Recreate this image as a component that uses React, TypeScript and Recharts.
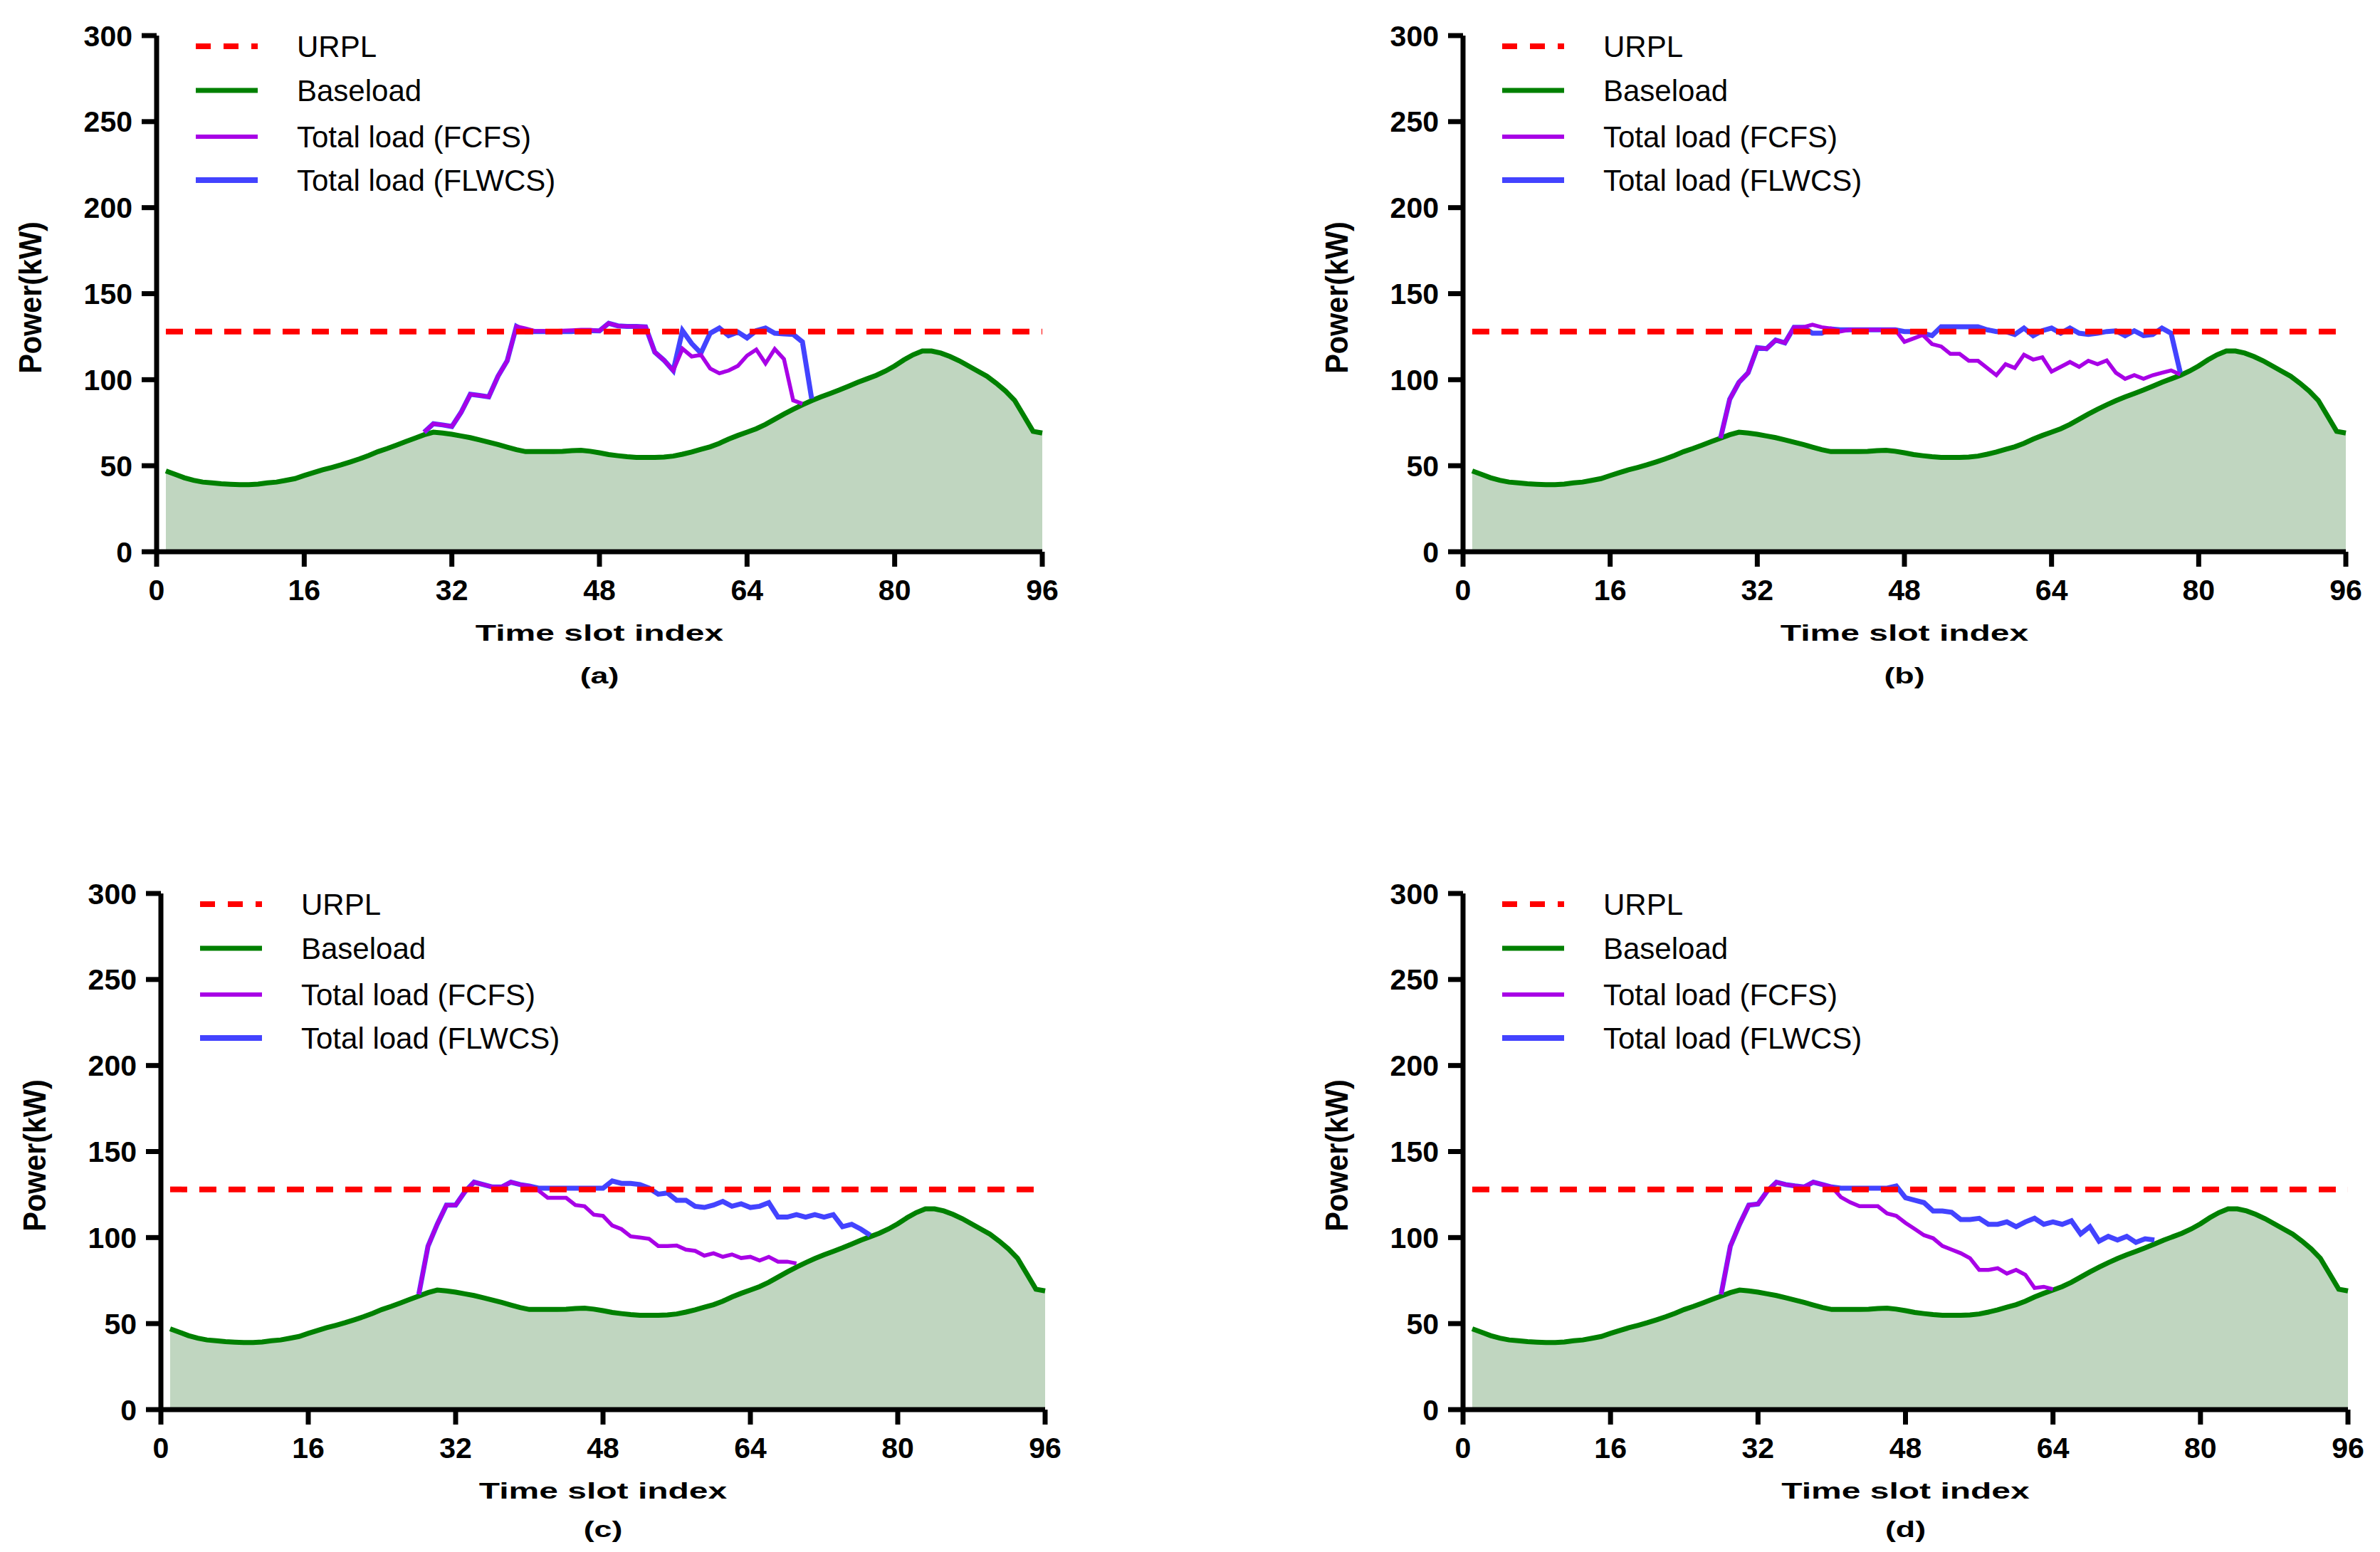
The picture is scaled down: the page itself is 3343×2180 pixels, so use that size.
import React from "react";
import { ComposedChart, Area, Line, XAxis, YAxis, ReferenceLine } from "recharts";

// time slots 0..96, power in kW
const slotTicks = [0, 16, 32, 48, 64, 80, 96];
const powerTicks = [0, 50, 100, 150, 200, 250, 300];
const urplLevel = 128;

const seriesNames = ["URPL", "Baseload", "Total load (FCFS)", "Total load (FLWCS)"];
const panelLabels = ["(a)", "(b)", "(c)", "(d)"];

// baseload, slots 1..96 (same in every panel)
const baseloadStart = 1;
const baseload = [
  47, 45, 43, 41.5, 40.5, 40, 39.5, 39.2, 39, 39,
  39.3, 40, 40.5, 41.5, 42.5, 44.3, 46, 47.6, 49, 50.5,
  52.2, 54, 56, 58.2, 60, 62, 64, 66, 68, 69.5,
  69, 68.3, 67.3, 66.3, 65, 63.7, 62.3, 60.8, 59.3, 58.2,
  58.2, 58.2, 58.2, 58.3, 58.8, 59, 58.4, 57.5, 56.5, 55.8,
  55.2, 54.8, 54.8, 54.8, 55, 55.6, 56.7, 58, 59.5, 61,
  63, 65.5, 67.6, 69.5, 71.5, 74, 77, 80, 82.8, 85.4,
  87.8, 90, 92, 94, 96.2, 98.5, 100.5, 102.5, 105, 108,
  111.5, 114.5, 116.7, 116.7, 115.5, 113.5, 111, 108, 105, 102,
  98, 93.5, 88, 79, 70, 69,
];

// (a)
const fcfsAStart = 29;
const fcfsA = [
  69.5, 74.4, 73.7, 72.8, 81, 91.5, 90.8, 90, 102, 111,
  131, 129.8, 128.3, 128.3, 128.3, 128.5, 128.7, 129, 129, 128.4,
  132.8, 131.3, 131, 131, 130.7, 116, 111.3, 105.3, 118, 113.5,
  114.4, 106.5, 103.7, 105.3, 108, 114, 117.5, 109.5, 117.8, 112,
  88, 86,
];
const flwcsAStart = 29;
const flwcsA = [
  69.5, 74.4, 73.7, 72.8, 81, 91.5, 90.8, 90, 102, 111,
  131, 128, 128, 128, 128, 128, 128, 128.5, 128.5, 128.4,
  132.8, 131.3, 131, 131, 130.7, 116, 111.3, 105.3, 128.5, 121,
  115.5, 127, 130, 125.6, 127.7, 124.3, 128.5, 130, 127, 126.6,
  126.3, 122, 89,
];

// (b)
const fcfsBStart = 28;
const fcfsB = [
  66, 88.6, 98.4, 104, 118.6, 118, 123, 121.4, 130.5, 130.5,
  132, 130.5, 129.8, 128, 129, 129, 129, 129, 129, 129,
  122, 124, 126, 120.7, 119.3, 115, 115, 111, 111, 106.8,
  102.6, 109, 106.8, 114.5, 111.7, 113, 104.7, 107.5, 110.3, 107.5,
  111, 109, 111.2, 104, 100.5, 102.6, 100.5, 102.6, 104, 105.4,
  103,
];
const flwcsBStart = 28;
const flwcsB = [
  66, 88.6, 98.4, 104, 118.6, 118, 123, 121.4, 130.5, 130.5,
  127, 127, 129.5, 129, 129, 129, 129, 129, 129, 129,
  128, 128, 127, 125.6, 130.8, 130.8, 130.8, 130.8, 130.8, 129,
  128, 128, 126.3, 130, 125.6, 128.5, 130, 127, 130, 127,
  126.3, 127, 128, 128.4, 125.6, 128.4, 125.6, 126.3, 130, 127,
  104,
];

// (c)
const fcfsCStart = 28;
const fcfsC = [
  67, 95, 107.7, 118.9, 118.9, 126.6, 132.2, 130.8, 129.4, 129.4,
  132.2, 130.8, 130, 127.3, 123.1, 123.1, 123.1, 118.9, 118.2, 113.3,
  112.6, 107, 104.9, 100.7, 100, 99.3, 95.1, 95.1, 95.4, 93,
  92.3, 89.5, 90.9, 88.8, 90.2, 88.1, 88.8, 86.7, 88.8, 86,
  86, 85,
];
const flwcsCStart = 28;
const flwcsC = [
  67, 95, 107.7, 118.9, 118.9, 126.6, 132.2, 130.8, 129.4, 129.4,
  132.2, 130.8, 130, 128.7, 128.7, 128.7, 128.7, 128.7, 128.7, 128.7,
  128.7, 132.9, 131.5, 131.5, 130.8, 128.7, 125.2, 125.9, 121.7, 121.7,
  118.2, 117.5, 118.9, 121, 118.2, 119.6, 117.5, 118.2, 120.3, 111.9,
  111.9, 113.3, 111.9, 113.3, 111.9, 113.3, 106.3, 107.7, 104.9, 101.4,
];

// (d)
const fcfsDStart = 28;
const fcfsD = [
  67, 95, 107.7, 118.9, 119.5, 127, 132.2, 130.8, 130, 129.4,
  132.2, 130.8, 129.4, 123.5, 120.5, 118.2, 118.2, 118.2, 114, 112.6,
  108.5, 105, 101.4, 99.6, 95.1, 93, 90.9, 88, 81.2, 81.2,
  82.2, 79.1, 81.2, 78.4, 70.7, 71.4, 70,
];
const flwcsDStart = 28;
const flwcsD = [
  67, 95, 107.7, 118.9, 119.5, 127, 132.2, 130.8, 130, 129.4,
  132.2, 130.8, 129.4, 128.7, 128.7, 128.7, 128.7, 128.7, 128.7, 130,
  123.1, 121.7, 120.3, 115.4, 115.4, 114.7, 110.5, 110.5, 111.2, 107.7,
  107.7, 109.1, 106.3, 109.1, 111.2, 107.7, 109.1, 107.7, 109.8, 102.1,
  106.3, 97.9, 100.7, 98.6, 100.7, 97.2, 99.3, 98.6,
];

const RED = "#ff0000";
const GREEN = "#008000";
const FILL = "#c0d6c0";
const PURPLE = "#a800e6";
const BLUE = "#4343ff";
const FONT = "'Liberation Sans', Arial, Helvetica, sans-serif";

function pick(arr: number[], start: number, s: number) {
  const i = s - start;
  return i >= 0 && i < arr.length ? arr[i] : null;
}

function buildRows(fcfs: number[], fcfsStart: number, flwcs: number[], flwcsStart: number) {
  const rows = [];
  for (let s = 0; s <= 96; s++) {
    rows.push({
      slot: s,
      base: pick(baseload, baseloadStart, s),
      fcfs: pick(fcfs, fcfsStart, s),
      flwcs: pick(flwcs, flwcsStart, s),
    });
  }
  return rows;
}

const panels = [
  { x0: 220, x1: 1464, top: 50, bottom: 775, rows: buildRows(fcfsA, fcfsAStart, flwcsA, flwcsAStart) },
  { x0: 2055, x1: 3295, top: 50, bottom: 775, rows: buildRows(fcfsB, fcfsBStart, flwcsB, flwcsBStart) },
  { x0: 226, x1: 1468, top: 1255, bottom: 1980, rows: buildRows(fcfsC, fcfsCStart, flwcsC, flwcsCStart) },
  { x0: 2055, x1: 3298, top: 1255, bottom: 1980, rows: buildRows(fcfsD, fcfsDStart, flwcsD, flwcsDStart) },
];

const padL = 220;
const padR = 140;
const padT = 50;
const padB = 230;
const axisH = 60;

const tickStyle = { fontSize: 41, fontWeight: 700, fill: "#000", fontFamily: FONT };
const axisStroke = { stroke: "#000", strokeWidth: 7 };

function Panel({ p }: { p: (typeof panels)[number] }) {
  const w = p.x1 - p.x0 + padL + padR;
  const h = p.bottom - p.top + padT + padB;
  return (
    <div style={{ position: "absolute", left: p.x0 - padL, top: p.top - padT }}>
      <ComposedChart
        width={w}
        height={h}
        data={p.rows}
        margin={{ top: padT, right: padR, left: 20, bottom: padB - axisH }}
      >
        <XAxis
          dataKey="slot"
          type="number"
          domain={[0, 96]}
          ticks={slotTicks}
          interval={0}
          height={axisH}
          tickSize={21}
          tickMargin={18}
          axisLine={axisStroke}
          tickLine={axisStroke}
          tick={tickStyle}
        />
        <YAxis
          type="number"
          domain={[0, 300]}
          ticks={powerTicks}
          interval={0}
          width={200}
          tickSize={21}
          tickMargin={13}
          axisLine={axisStroke}
          tickLine={axisStroke}
          tick={tickStyle}
        />
        <Area
          dataKey="base"
          type="linear"
          stroke={GREEN}
          strokeWidth={7}
          fill={FILL}
          fillOpacity={1}
          dot={false}
          activeDot={false}
          isAnimationActive={false}
        />
        <Line
          dataKey="flwcs"
          type="linear"
          stroke={BLUE}
          strokeWidth={7}
          dot={false}
          activeDot={false}
          isAnimationActive={false}
        />
        <Line
          dataKey="fcfs"
          type="linear"
          stroke={PURPLE}
          strokeWidth={5.5}
          dot={false}
          activeDot={false}
          isAnimationActive={false}
        />
        <ReferenceLine
          segment={[
            { x: 1, y: urplLevel },
            { x: 96, y: urplLevel },
          ]}
          stroke={RED}
          strokeWidth={8}
          strokeDasharray="24 17"
        />
      </ComposedChart>
    </div>
  );
}

const legendStyle = [
  { color: RED, width: 8, dash: "21 18" },
  { color: GREEN, width: 7, dash: undefined },
  { color: PURPLE, width: 6, dash: undefined },
  { color: BLUE, width: 8, dash: undefined },
];
const legendRows = [15, 77, 142, 203];

function Overlay() {
  return (
    <svg
      width={3343}
      height={2180}
      style={{ position: "absolute", left: 0, top: 0, pointerEvents: "none" }}
      fontFamily={FONT}
    >
      {panels.map((p, i) => {
        const cx = (p.x0 + p.x1) / 2;
        const cy = p.top + 368;
        const yt = p.bottom + 113;
        const ys = p.bottom + (i < 2 ? 173 : 167);
        return (
          <g key={i}>
            {seriesNames.map((name, k) => (
              <g key={name}>
                <line
                  x1={p.x0 + 55}
                  x2={p.x0 + 142}
                  y1={p.top + legendRows[k]}
                  y2={p.top + legendRows[k]}
                  stroke={legendStyle[k].color}
                  strokeWidth={legendStyle[k].width}
                  strokeDasharray={legendStyle[k].dash}
                />
                <text x={p.x0 + 197} y={p.top + legendRows[k]} dy="0.36em" fontSize={42} fill="#000">
                  {name}
                </text>
              </g>
            ))}
            <text
              transform={`translate(${p.x0 - 178},${cy}) rotate(-90) scale(0.94,1)`}
              textAnchor="middle"
              dy="0.36em"
              fontSize={44}
              fontWeight={700}
              fill="#000"
            >
              Power(kW)
            </text>
            <text
              transform={`translate(${cx},${yt}) scale(1.5,1)`}
              textAnchor="middle"
              dy="0.36em"
              fontSize={32}
              fontWeight={700}
              fill="#000"
            >
              Time slot index
            </text>
            <text
              transform={`translate(${cx},${ys}) scale(1.4,1)`}
              textAnchor="middle"
              dy="0.36em"
              fontSize={32}
              fontWeight={700}
              fill="#000"
            >
              {panelLabels[i]}
            </text>
          </g>
        );
      })}
    </svg>
  );
}

export default function App() {
  return (
    <div
      style={{
        position: "absolute",
        left: 0,
        top: 0,
        width: 3343,
        height: 2180,
        background: "#fff",
        overflow: "hidden",
      }}
    >
      {panels.map((p, i) => (
        <Panel key={i} p={p} />
      ))}
      <Overlay />
    </div>
  );
}
